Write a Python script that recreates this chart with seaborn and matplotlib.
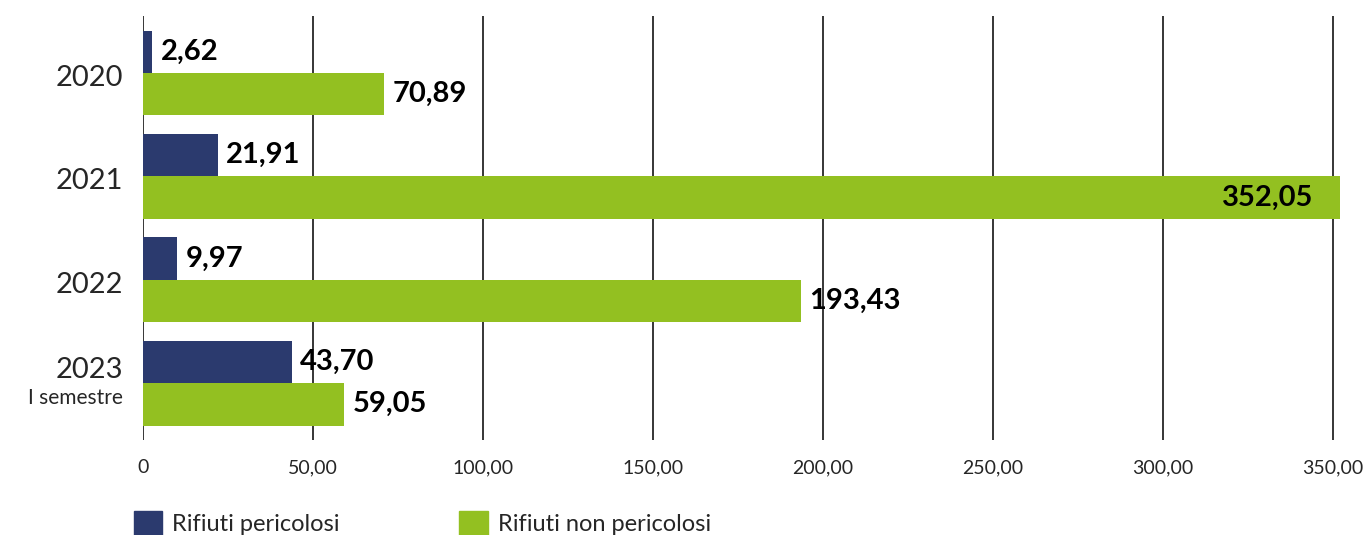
import pandas as pd
import seaborn as sns
import matplotlib.pyplot as plt
import matplotlib.patches as mpatches

# data
anni = ["2020", "2021", "2022", "2023"]
pericolosi = [2.62, 21.91, 9.97, 43.70]
non_pericolosi = [70.89, 352.05, 193.43, 59.05]
serie = ["Rifiuti pericolosi", "Rifiuti non pericolosi"]
x_ticks = [0, 50, 100, 150, 200, 250, 300, 350]

BLUE = "#2b3a6e"
GREEN = "#93c021"


def fmt_it(v):
    return f"{v:.2f}".replace(".", ",")


df = pd.DataFrame({
    "Anno": anni * 2,
    "Valore": pericolosi + non_pericolosi,
    "Tipo": [serie[0]] * len(anni) + [serie[1]] * len(anni),
})

sns.set_style("white")
plt.rcParams["font.family"] = ["Lato", "DejaVu Sans"]

fig = plt.figure(figsize=(13.69, 5.35), dpi=100)
ax = fig.add_axes([0.1045, 0.1776, 0.875, 0.7924])

sns.barplot(data=df, y="Anno", x="Valore", hue="Tipo", order=anni,
            hue_order=serie, palette=[BLUE, GREEN], orient="h",
            width=0.82, saturation=1, linewidth=0, ax=ax, legend=False)

ax.set_xlim(0, 352.3)
ax.set_ylim(3.55, -0.55)
ax.set_xticks(x_ticks)
ax.set_xticklabels(["0"] + [fmt_it(t) for t in x_ticks[1:]], fontsize=14)
ax.grid(axis="x", color="black", linewidth=1.1)
ax.set_axisbelow(True)
for s in ax.spines.values():
    s.set_visible(False)
ax.tick_params(axis="both", length=0)
ax.tick_params(axis="x", pad=14)
ax.set_xlabel("")
ax.set_ylabel("")

# y labels drawn as text: the last one has a second, smaller line
ax.set_yticks(range(len(anni)))
ax.set_yticklabels([])
for i, a in enumerate(anni[:-1]):
    ax.text(-6, i + 0.05, a, ha="right", va="center", fontsize=21, clip_on=False)
ax.text(-6, 2.87, anni[-1], ha="right", va="center", fontsize=21, clip_on=False)
ax.text(-6, 3.14, "I semestre", ha="right", va="center", fontsize=15, clip_on=False)

# value labels
for cont in ax.containers:
    for bar in cont:
        v = bar.get_width()
        yc = bar.get_y() + bar.get_height() / 2
        if v > 300:
            ax.text(v - 8, yc, fmt_it(v), ha="right", va="center",
                    fontsize=21, fontweight="bold", color="black")
        else:
            ax.text(v + 2.5, yc, fmt_it(v), ha="left", va="center",
                    fontsize=21, fontweight="bold", color="black")

handles = [mpatches.Patch(color=BLUE, label=serie[0]),
           mpatches.Patch(color=GREEN, label=serie[1])]
fig.legend(handles=handles, loc="lower left", bbox_to_anchor=(0.082, -0.04),
           ncol=2, frameon=False, fontsize=17, handlelength=1.2,
           handleheight=1.2, handletextpad=0.45, columnspacing=5.05)

fig.savefig("out.png", dpi=100)
